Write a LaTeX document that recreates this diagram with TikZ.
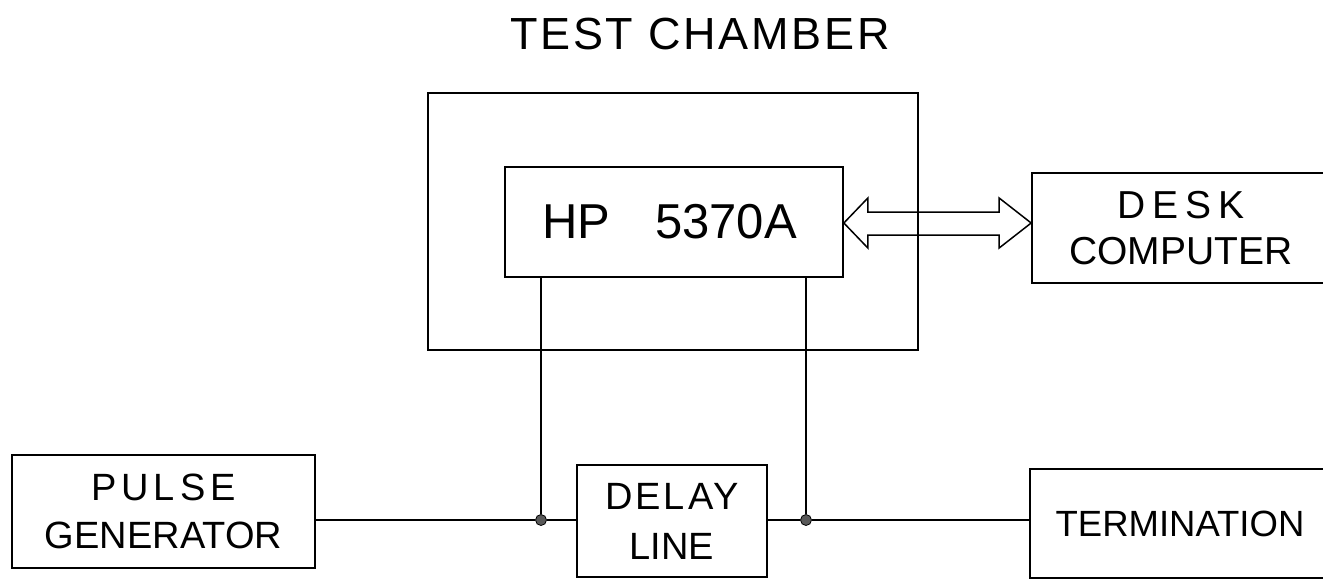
\documentclass[tikz,border=0pt]{standalone}
\usepackage{fontspec}
\setmainfont{Liberation Sans}
\usetikzlibrary{calc}
\begin{document}
\begin{tikzpicture}[x=1pt,y=-1pt,
  box/.style={draw,line width=1.7pt,inner sep=0pt,align=center},
  wire/.style={line width=1.5pt},
  dot/.style={circle,fill=black!65,draw=black,line width=0.8pt,inner sep=0pt,minimum size=11pt}]
\useasboundingbox (0,0) rectangle (1323,582);
\clip (0,0) rectangle (1323,582);
% title
\node[font=\fontsize{45}{50}\selectfont\addfontfeature{LetterSpace=6}] (title) at (700,34) {TEST CHAMBER};
% chamber
\node[draw,line width=1.3pt,minimum width=490pt,minimum height=257pt] (chamber) at (673,221.5) {};
% HP
\node[box,minimum width=338pt,minimum height=110pt,font=\fontsize{49}{55}\selectfont] (hp) at (674,222) {HP\hspace{45pt}5370A\hspace{9pt}};
% desk computer
\node[box,minimum width=298pt,minimum height=110pt,font=\fontsize{39}{46}\selectfont] (desk) at (1181,228)
  {{\addfontfeature{LetterSpace=18}DESK}\\COMPUTER};
% pulse generator
\node[box,minimum width=303pt,minimum height=113pt,font=\fontsize{38}{48}\selectfont] (pulse) at (163.5,511.5)
  {{\addfontfeature{LetterSpace=13}PULSE}\\GENERATOR};
% delay line
\node[box,minimum width=190pt,minimum height=112pt,font=\fontsize{38}{50}\selectfont] (delay) at (672,521)
  {{\addfontfeature{LetterSpace=8}DELAY}\\LINE};
% termination
\node[box,minimum width=300pt,minimum height=109pt,font=\fontsize{36.5}{44}\selectfont] (term) at (1180,523.5) {TERMINATION};
% junctions
\node[dot] (j1) at (541,520) {};
\node[dot] (j2) at (806,520) {};
% wires
\draw[wire] (pulse.east |- j1) -- (j1) -- (delay.west |- j1);
\draw[wire] (delay.east |- j2) -- (j2) -- (term.west |- j2);
\draw[wire] (hp.south -| j1) -- (j1);
\draw[wire] (hp.south -| j2) -- (j2);
% double arrow (bus)
\coordinate (a) at ($(hp.east)+(0,1)$);
\coordinate (b) at ($(desk.west)+(0,-5)$);
\draw[line width=1.5pt,line join=miter]
  (a) -- ($(a)+(24,-25)$) -- ($(a)+(24,-11)$) -- ($(b)+(-32,-11)$) -- ($(b)+(-32,-25)$) -- (b)
  -- ($(b)+(-32,25)$) -- ($(b)+(-32,12)$) -- ($(a)+(24,12)$) -- ($(a)+(24,25)$) -- cycle;
\end{tikzpicture}
\end{document}
